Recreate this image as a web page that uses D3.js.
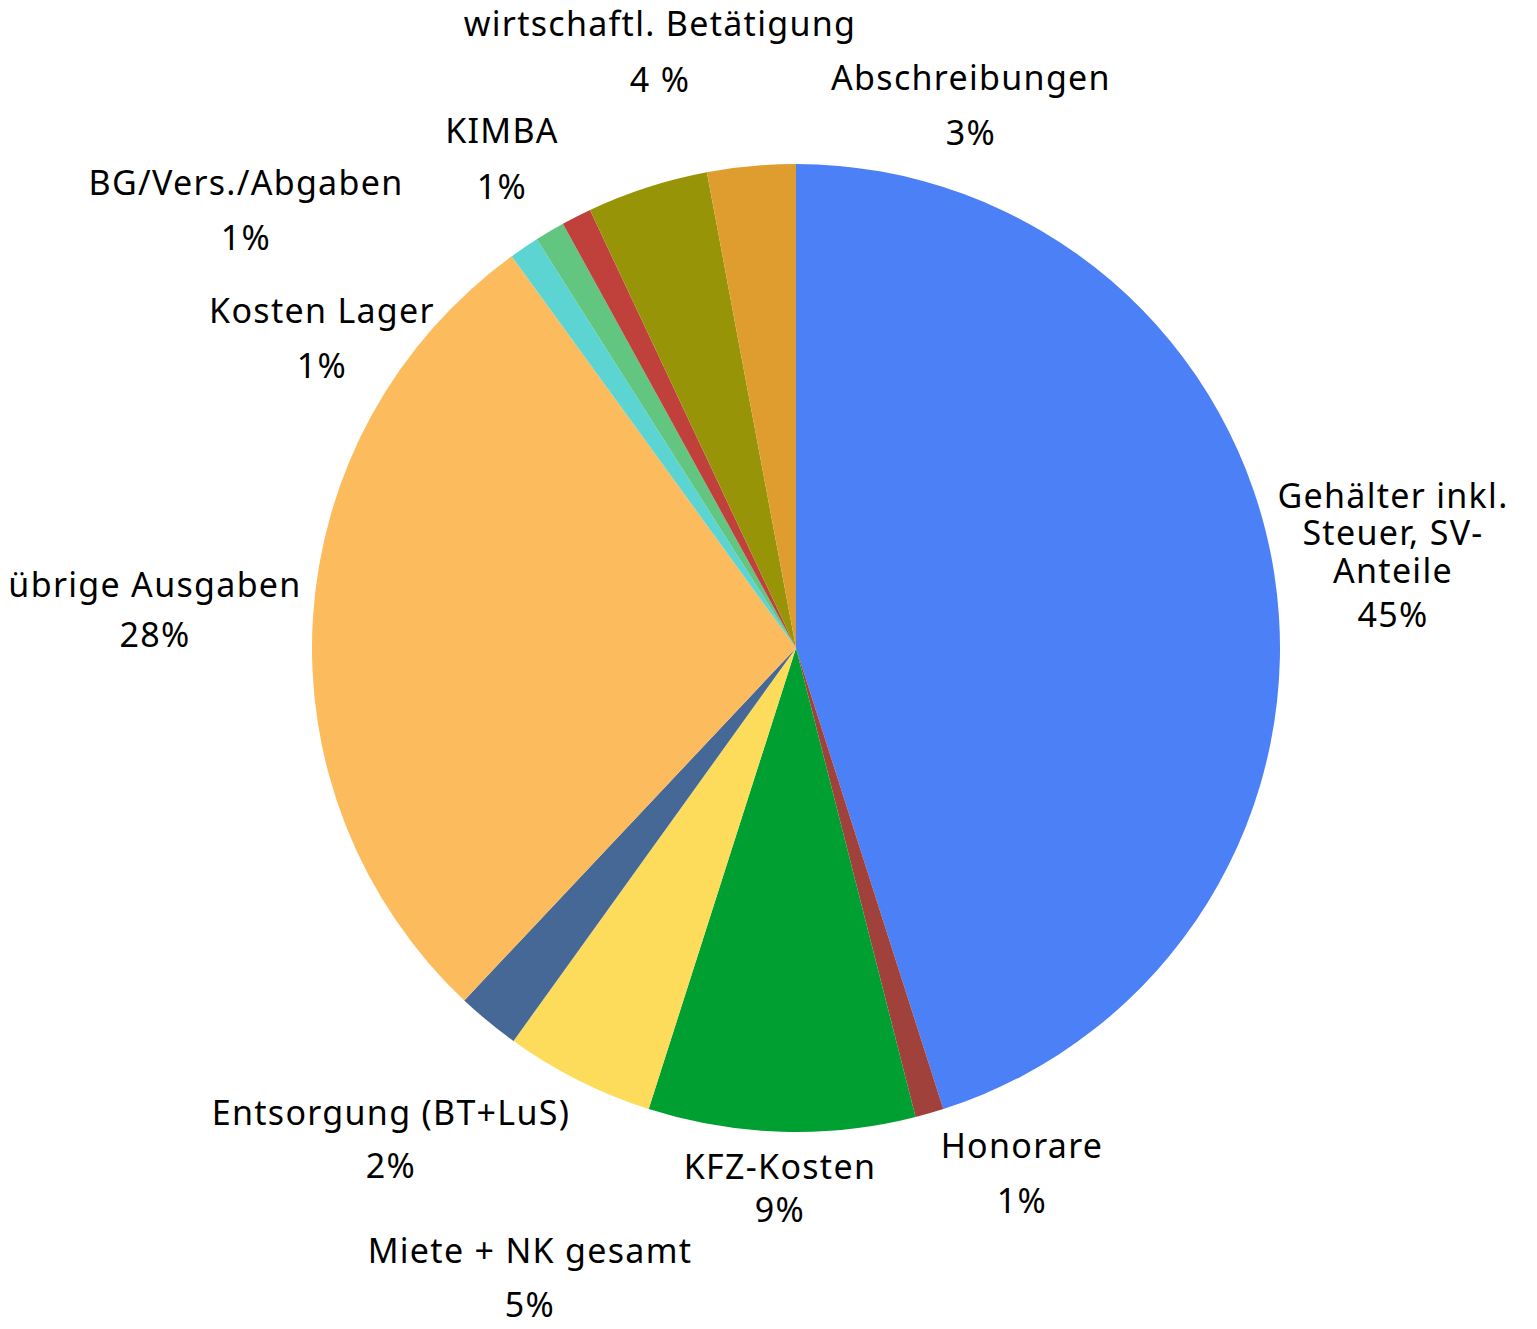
<!DOCTYPE html>
<html>
<head>
<meta charset="utf-8">
<script src="https://cdn.jsdelivr.net/npm/d3@7"></script>
<style>
  html, body { margin: 0; padding: 0; background: #ffffff; }
  svg { display: block; }
</style>
</head>
<body>
<svg id="chart" width="1537" height="1329"></svg>
<script>
// ---- data ----
const categories = [
  "Gehälter inkl. Steuer, SV-Anteile",
  "Honorare",
  "KFZ-Kosten",
  "Miete + NK gesamt",
  "Entsorgung (BT+LuS)",
  "übrige Ausgaben",
  "Kosten Lager",
  "BG/Vers./Abgaben",
  "KIMBA",
  "wirtschaftl. Betätigung",
  "Abschreibungen"
];
const values = [45.1, 0.95, 8.9, 5.0, 2.1, 28.0, 1.0, 1.0, 1.0, 4.05, 2.95];
const percentLabels = ["45%", "1%", "9%", "5%", "2%", "28%", "1%", "1%", "1%", "4 %", "3%"];
const nameLines = [
  ["Gehälter inkl.", "Steuer, SV-", "Anteile"],
  ["Honorare"],
  ["KFZ-Kosten"],
  ["Miete + NK gesamt"],
  ["Entsorgung (BT+LuS)"],
  ["übrige Ausgaben"],
  ["Kosten Lager"],
  ["BG/Vers./Abgaben"],
  ["KIMBA"],
  ["wirtschaftl. Betätigung"],
  ["Abschreibungen"]
];

// ---- styles / layout ----
const colors = ["#4b80f6", "#a0413b", "#009f31", "#fddc5b", "#466896", "#fcbb5c",
                "#5bd4d2", "#62c580", "#c0403c", "#979408", "#df9d30"];
// label layout: centre x, baselines of each line
const labelLayout = [
  {x: 1393, ys: [508, 545, 583, 627]},
  {x: 1022, ys: [1158, 1213]},
  {x: 780,  ys: [1179, 1222]},
  {x: 530,  ys: [1263, 1317]},
  {x: 391,  ys: [1125, 1178]},
  {x: 155,  ys: [597, 647]},
  {x: 322,  ys: [323, 378]},
  {x: 246,  ys: [195, 250]},
  {x: 502,  ys: [143, 199]},
  {x: 660,  ys: [36, 92]},
  {x: 971,  ys: [90, 145]}
];

const cx = 796, cy = 648, radius = 484;
const svg = d3.select("#chart");
const g = svg.append("g").attr("transform", `translate(${cx},${cy})`);

const data = categories.map((c, i) => ({name: c, value: values[i], i}));
const pie = d3.pie().value(d => d.value).sort(null);
const arc = d3.arc().innerRadius(0).outerRadius(radius);

g.selectAll("path.slice")
  .data(pie(data))
  .join("path")
  .attr("class", "slice")
  .attr("d", arc)
  .attr("fill", d => colors[d.data.i]);

const labels = svg.append("g")
  .attr("font-family", "'Noto Sans', 'Open Sans', sans-serif")
  .attr("font-size", 34)
  .attr("letter-spacing", 1.3)
  .attr("fill", "#000")
  .attr("text-anchor", "middle");

data.forEach((d, i) => {
  const lines = nameLines[i].concat([percentLabels[i]]);
  const lay = labelLayout[i];
  const t = labels.append("text");
  lines.forEach((ln, k) => {
    t.append("tspan").attr("x", lay.x).attr("y", lay.ys[k]).text(ln);
  });
});
</script>
</body>
</html>
